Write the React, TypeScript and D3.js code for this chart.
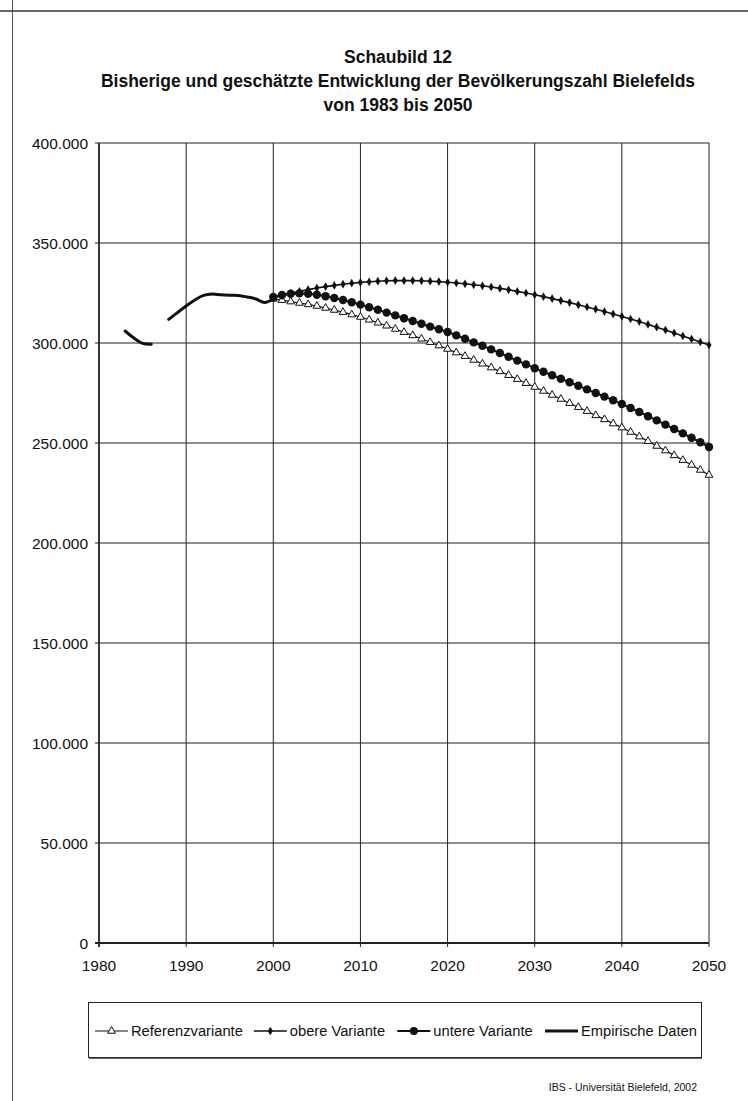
import React from 'react';
import * as d3 from 'd3';

const empYears = [1983, 1984, 1985, 1986, 1987, 1988, 1989, 1990, 1991, 1992, 1993, 1994, 1995, 1996, 1997, 1998, 1999, 2000];
const empValues: (number | null)[] = [306000, 302500, 299800, 299400, null, 311800, 315200, 318500, 321500, 323800, 324500, 324100, 323900, 323800, 323000, 322000, 320300, 322000];

const forecastYears = d3.range(2000, 2051);

const referenz = [
  322000, 321400, 320700, 320000, 319300, 318500, 317500, 316500, 315400, 314200,
  313000, 311600, 310100, 308600, 307000, 305400, 303800, 302100, 300400, 298700,
  297000, 295200, 293400, 291500, 289600, 287700, 285800, 283900, 281900, 279900,
  278000, 276000, 274000, 272000, 269900, 267900, 265900, 263800, 261800, 259700,
  257700, 255500, 253200, 250900, 248500, 246200, 243800, 241400, 239000, 236500,
  234000,
];

const obere = [
  322500, 323700, 324800, 325800, 326700, 327500, 328200, 328800, 329400, 329900,
  330300, 330600, 330900, 331100, 331200, 331200, 331200, 331100, 330900, 330700,
  330400, 330000, 329600, 329100, 328600, 328000, 327300, 326600, 325800, 325000,
  324100, 323200, 322200, 321200, 320200, 319100, 318000, 316900, 315700, 314500,
  313300, 312000, 310700, 309300, 307900, 306500, 305000, 303500, 302000, 300500,
  299000,
];

const untere = [
  323000, 324000, 324600, 324800, 324600, 324100, 323400, 322500, 321500, 320400,
  319200, 317900, 316600, 315200, 313800, 312400, 311000, 309600, 308200, 306900,
  305500, 303800, 302100, 300300, 298600, 296800, 295000, 293100, 291200, 289300,
  287400, 285600, 283900, 282100, 280400, 278600, 276800, 275000, 273200, 271400,
  269500, 267500, 265500, 263400, 261300, 259200, 257000, 254800, 252600, 250400,
  248000,
];

const yTicks = [0, 50000, 100000, 150000, 200000, 250000, 300000, 350000, 400000];
const xTicks = [1980, 1990, 2000, 2010, 2020, 2030, 2040, 2050];

const titleLines = [
  'Schaubild 12',
  'Bisherige und geschätzte Entwicklung der Bevölkerungszahl Bielefelds',
  'von 1983 bis 2050',
];
const legendLabels = ['Referenzvariante', 'obere Variante', 'untere Variante', 'Empirische Daten'];
const sourceText = 'IBS - Universität Bielefeld, 2002';

const font = '"Liberation Sans", Arial, Helvetica, sans-serif';

export default function App() {
  const W = 748;
  const H = 1101;
  const plot = { left: 99, right: 709, top: 143, bottom: 943 };

  const x = d3.scaleLinear().domain([1980, 2050]).range([plot.left, plot.right]);
  const y = d3.scaleLinear().domain([0, 400000]).range([plot.bottom, plot.top]);
  const fmt = (v: number) => d3.format(',')(v).replace(/,/g, '.');

  const forecastLine = d3.line<number>()
    .x((_, i) => x(forecastYears[i]))
    .y(d => y(d));

  const empLine = d3.line<number | null>()
    .defined(d => d !== null)
    .x((_, i) => x(empYears[i]))
    .y(d => y(d as number))
    .curve(d3.curveCatmullRom.alpha(0.5));

  const tri = d3.symbol().type(d3.symbolTriangle).size(26)();
  const diamond = d3.symbol().type(d3.symbolDiamond).size(22)();

  // legend layout
  const legendY = 1031;
  const widths = [111.7, 96.4, 100.5, 116];
  const lineLen = 33;
  const gapText = 3;
  const totalItems = widths.reduce((a, w) => a + lineLen + gapText + w, 0);
  const legStart = 95;
  const legEnd = 697;
  const between = (legEnd - legStart - totalItems) / 3;
  let cursor = legStart;
  const legendPos = widths.map(w => {
    const p = cursor;
    cursor += lineLen + gapText + w + between;
    return p;
  });

  return (
    <div style={{ position: 'absolute', left: 0, top: 0, width: W, height: H, background: '#fff' }}>
      <svg width={W} height={H} style={{ display: 'block', fontFamily: font }}>
        <rect x={0} y={0} width={W} height={H} fill="#fff" />

        {/* page frame */}
        <line x1={12.5} x2={12.5} y1={0} y2={H} stroke="#555" strokeWidth={1} />
        <line x1={0} x2={W} y1={11} y2={11} stroke="#333" strokeWidth={1.5} />

        {/* title */}
        {titleLines.map((t, i) => (
          <text key={t} x={398} y={63 + i * 24} textAnchor="middle" fontWeight="bold" fontSize={17.5} fill="#111">
            {t}
          </text>
        ))}

        {/* grid */}
        {yTicks.map(t => (
          <g key={'y' + t}>
            <line x1={plot.left - 4} x2={plot.right} y1={y(t)} y2={y(t)} stroke="#222" strokeWidth={t === 0 ? 1.8 : 1} />
            <text x={88} y={y(t)} dy="0.36em" textAnchor="end" fontSize={15.5} fill="#111">
              {fmt(t)}
            </text>
          </g>
        ))}
        {xTicks.map(t => (
          <g key={'x' + t}>
            <line x1={x(t)} x2={x(t)} y1={plot.top} y2={plot.bottom + 4} stroke="#222" strokeWidth={t === 1980 ? 1.8 : 1} />
            <text x={x(t)} y={971} textAnchor="middle" fontSize={15.5} fill="#111">
              {t}
            </text>
          </g>
        ))}

        {/* Referenzvariante */}
        <path d={forecastLine(referenz) || ''} fill="none" stroke="#111" strokeWidth={1.2} />
        {referenz.map((v, i) => (
          <path key={'r' + i} d={tri || ''} transform={`translate(${x(forecastYears[i])},${y(v)})`} fill="#fff" stroke="#111" strokeWidth={1} />
        ))}

        {/* untere Variante */}
        <path d={forecastLine(untere) || ''} fill="none" stroke="#111" strokeWidth={2} />
        {untere.map((v, i) => (
          <circle key={'u' + i} cx={x(forecastYears[i])} cy={y(v)} r={4.2} fill="#111" />
        ))}

        {/* obere Variante */}
        <path d={forecastLine(obere) || ''} fill="none" stroke="#111" strokeWidth={1.6} />
        {obere.map((v, i) => (
          <path key={'o' + i} d={diamond || ''} transform={`translate(${x(forecastYears[i])},${y(v)})`} fill="#111" />
        ))}

        {/* Empirische Daten */}
        <path d={empLine(empValues) || ''} fill="none" stroke="#111" strokeWidth={3} strokeLinecap="round" />

        {/* legend */}
        <rect x={88.5} y={1002.5} width={613} height={55} fill="#fff" stroke="#222" strokeWidth={1} />
        <line x1={89} x2={702} y1={1058} y2={1058} stroke="#333" strokeWidth={1.5} />
        {legendLabels.map((lab, i) => {
          const x0 = legendPos[i];
          const cx = x0 + lineLen / 2;
          return (
            <g key={lab}>
              <line x1={x0} x2={x0 + lineLen} y1={legendY} y2={legendY} stroke="#111"
                strokeWidth={i === 3 ? 3 : i === 0 ? 1.2 : i === 1 ? 1.6 : 2} />
              {i === 0 && <path d={tri || ''} transform={`translate(${cx},${legendY})`} fill="#fff" stroke="#111" strokeWidth={1} />}
              {i === 1 && <path d={diamond || ''} transform={`translate(${cx},${legendY})`} fill="#111" />}
              {i === 2 && <circle cx={cx} cy={legendY} r={4} fill="#111" />}
              <text x={x0 + lineLen + gapText} y={legendY} dy="0.36em" fontSize={14.7} fill="#111">
                {lab}
              </text>
            </g>
          );
        })}

        {/* source */}
        <text x={697} y={1091} textAnchor="end" fontSize={10.5} fill="#111">
          {sourceText}
        </text>
      </svg>
    </div>
  );
}
